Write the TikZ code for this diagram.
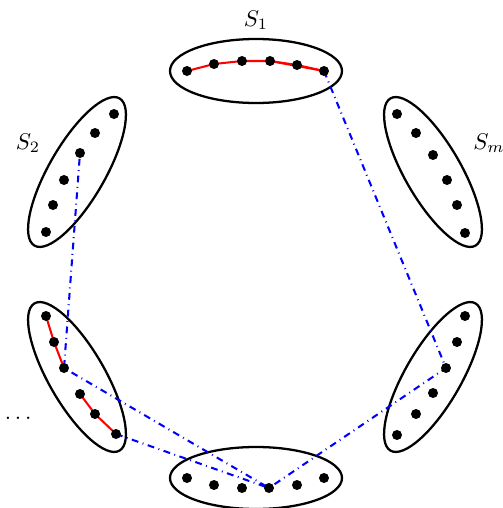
\documentclass[tikz,border=0pt]{standalone}
\usepackage{amssymb}
\usepackage{amsmath}
\usepackage{tikz}

\begin{document}
\begin{tikzpicture}[x=0.44pt,y=0.44pt]
    \useasboundingbox (0,0) rectangle (502,508);
    \tikzset{set/.style={line width=1pt}, chain/.style={red, line width=0.9pt}, link/.style={blue, dash dot, line width=0.9pt}}
    % centres of the sets
    \coordinate (C1) at (256,437); \coordinate (C2) at (77,336); \coordinate (Cm) at (433,336);
    \coordinate (CL) at (77,131); \coordinate (CR) at (433,131); \coordinate (CB) at (256,30);
    % elements
    \coordinate (A1) at (187,437); \coordinate (A2) at (214,444); \coordinate (A3) at (242,447);
    \coordinate (A4) at (270,447); \coordinate (A5) at (297,443); \coordinate (A6) at (324,437);
    \coordinate (B1) at (114,394); \coordinate (B2) at (95,375); \coordinate (B3) at (80,355);
    \coordinate (B4) at (64,328); \coordinate (B5) at (53,303); \coordinate (B6) at (46,276);
    \coordinate (M1) at (397,394); \coordinate (M2) at (416,375); \coordinate (M3) at (433,353);
    \coordinate (M4) at (447,328); \coordinate (M5) at (457,303); \coordinate (M6) at (465,275);
    \coordinate (L1) at (46,192); \coordinate (L2) at (54,166); \coordinate (L3) at (64,140);
    \coordinate (L4) at (80,114); \coordinate (L5) at (95,94); \coordinate (L6) at (116,74);
    \coordinate (R1) at (465,192); \coordinate (R2) at (457,166); \coordinate (R3) at (446,140);
    \coordinate (R4) at (433,115); \coordinate (R5) at (416,94); \coordinate (R6) at (397,73);
    \coordinate (D1) at (187,30); \coordinate (D2) at (214,23); \coordinate (D3) at (242,20);
    \coordinate (D4) at (269,20); \coordinate (D5) at (297,23); \coordinate (D6) at (324,30);
    % sets
    \draw[set] (C1) ellipse (86 and 32);
    \draw[set] (CB) ellipse (86 and 31);
    \draw[set, rotate around={60:(C2)}] (C2) ellipse (85 and 28);
    \draw[set, rotate around={-60:(Cm)}] (Cm) ellipse (85 and 28);
    \draw[set, rotate around={-60:(CL)}] (CL) ellipse (85 and 28);
    \draw[set, rotate around={60:(CR)}] (CR) ellipse (85 and 28);
    % paths
    \draw[chain] (A1) -- (A2) -- (A3) -- (A4) -- (A5) -- (A6);
    \draw[chain] (A4) -- (A6);
    \draw[chain] (L1) -- (L2) -- (L3);
    \draw[chain] (L4) -- (L5) -- (L6);
    \draw[link] (A6) -- (R3) -- (D4) -- (L3) -- (B3);
    \draw[link] (L6) -- (D4);
    \foreach \s in {A,B,M,L,R,D} {\foreach \i in {1,...,6} {\fill (\s\i) circle (5);}}
    \node (lab1) at (256,488) {$S_1$}; \node (lab2) at (28,365) {$S_2$};
    \node (labm) at (489,365) {$S_m$}; \node (labd) at (20,90) {$\dots$};
\end{tikzpicture}
\end{document}
